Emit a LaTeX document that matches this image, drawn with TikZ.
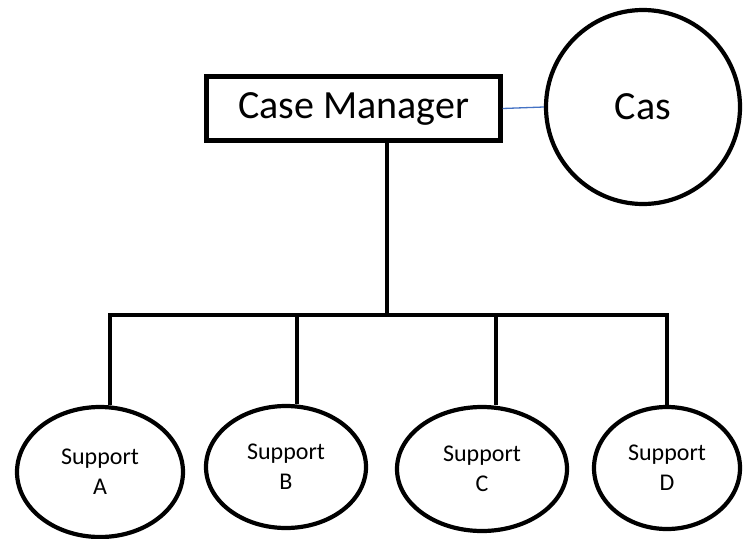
\documentclass[tikz,border=0pt]{standalone}
\usepackage{fontspec}
\setmainfont{Carlito}
\usetikzlibrary{shapes.geometric}
\definecolor{linkblue}{HTML}{4472C4}
\begin{document}
\begin{tikzpicture}[x=1pt,y=-1pt,
  heavy/.style={line width=4.2pt},
  managerbox/.style={draw,heavy,rectangle,minimum width=294pt,minimum height=64pt,inner sep=0pt,
    font=\fontsize{40}{48}\selectfont},
  clientcircle/.style={draw,heavy,circle,minimum size=194pt,inner sep=0pt,
    font=\fontsize{40}{48}\selectfont},
  supportoval/.style={draw,heavy,ellipse,inner sep=0pt,align=center,
    font=\fontsize{24}{30}\selectfont},
  branch/.style={heavy,line cap=rect},
  link/.style={draw=linkblue,line width=1.3pt}]
\useasboundingbox (0,0) rectangle (743,538);

% top level
\node[managerbox] (cm) at (353.5,108.5) {Case Manager};
\node[clientcircle] (cas) at (643,107) {Cas};
\draw[link] (cm.east) -- (cas.west);

% support services
\node[supportoval,minimum width=166pt,minimum height=130pt] (sa) at (100,472) {Support\\A};
\node[supportoval,minimum width=160pt,minimum height=122pt] (sb) at (286,467) {Support\\B};
\node[supportoval,minimum width=170pt,minimum height=124pt] (sc) at (482,469) {Support\\C};
\node[supportoval,minimum width=146pt,minimum height=122pt] (sd) at (667,468) {Support\\D};

% junction points on the horizontal bar
\coordinate (jm) at (387,315);
\coordinate (ja) at (110,315);
\coordinate (jb) at (297,315);
\coordinate (jc) at (496,315);
\coordinate (jd) at (667,315);

\draw[heavy] (jm |- cm.south) -- (jm);
\draw[branch] (ja) -- (jd);
\draw[heavy] (ja) -- (ja |- sa.north);
\draw[heavy] (jb) -- (jb |- sb.north);
\draw[heavy] (jc) -- (jc |- sc.north);
\draw[heavy] (jd) -- (jd |- sd.north);
\end{tikzpicture}
\end{document}
